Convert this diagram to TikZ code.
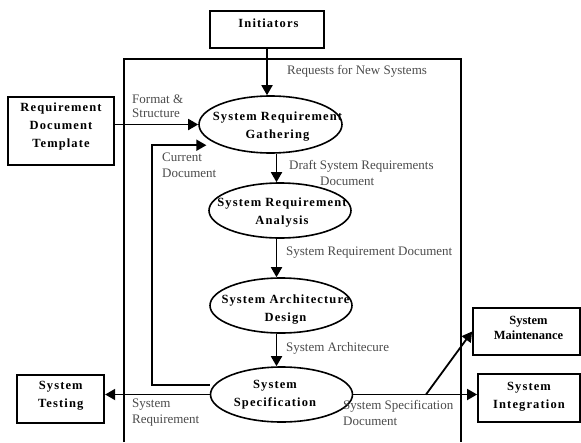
\documentclass[tikz,border=0pt]{standalone}
\usepackage{fontspec}
\setmainfont{Liberation Serif}
\newfontfamily\wideserif[LetterSpace=9]{Liberation Serif}
\usetikzlibrary{shapes.geometric,arrows.meta}

\begin{document}
\begin{tikzpicture}[x=1pt, y=-1pt,
  box/.style={draw, line width=1.8pt, inner sep=0pt},
  proc/.style={draw, ellipse, line width=1.6pt, inner sep=0pt,
    minimum width=142pt, minimum height=55pt},
  boldtxt/.style={font=\wideserif\bfseries\fontsize{12.5}{18}\selectfont,
    align=center, inner sep=0pt},
  boldtight/.style={boldtxt, font=\bfseries\fontsize{12.5}{15}\selectfont},
  flowtxt/.style={font=\fontsize{13}{16}\selectfont, text=flowgray,
    align=left, anchor=west, inner sep=0pt},
  arr/.style={line width=1.8pt, -{Triangle[length=10pt, width=11pt]}}]
  % Define label colour
  \definecolor{flowgray}{RGB}{75,75,75}
  \useasboundingbox (0,0) rectangle (581,442);

  % Open frame of the process
  \draw[line width=1.8pt] (124,442) -- (124,59) -- (461,59) -- (461,442);

  % Outside parties (boxes)
  \node[box, minimum width=114pt, minimum height=37pt,
    label={[boldtxt, xshift=1.5pt, yshift=6.5pt]center:Initiators}] (init) at (267,29.5) {};
  \node[box, minimum width=106pt, minimum height=68pt,
    label={[boldtxt, yshift=5pt]center:Requirement\\Document\\Template}] (tmpl) at (61,131) {};
  \node[box, minimum width=87pt, minimum height=48pt,
    label={[boldtxt, yshift=3.5pt]center:System\\Testing}] (test) at (60.75,399) {};
  \node[box, minimum width=107pt, minimum height=47pt,
    label={[boldtight, xshift=2pt, yshift=4pt]center:System\\Maintenance}] (maint) at (526.5,331.5) {};
  \node[box, minimum width=102pt, minimum height=48pt,
    label={[boldtxt, yshift=1.5pt]center:System\\Integration}] (integ) at (529,398) {};

  % Process steps (ellipses)
  \node[proc, minimum width=143pt, minimum height=57pt,
    label={[boldtxt, xshift=7pt, yshift=-2.5pt]center:System Requirement\\Gathering}] (gather) at (270.5,124.5) {};
  \node[proc, label={[boldtxt, xshift=2pt, yshift=-2.5pt]center:System Requirement\\Analysis}] (analysis) at (280,210.5) {};
  \node[proc, label={[boldtxt, xshift=4.5pt, yshift=-4pt]center:System Architecture\\Design}] (arch) at (281,305.5) {};
  \node[proc, label={[boldtxt, xshift=-6.5pt, yshift=-0.5pt]center:System\\Specification}] (spec) at (281.5,394.5) {};

  \coordinate (col) at (276.5,0);
  \coordinate (split) at (426,394.5);

  % Flows
  \draw[arr] (init.south) -- (init.south |- gather.north);
  \draw[arr] (tmpl.east |- gather.west) -- (gather.west);
  \draw[arr, shorten >=13pt] ([yshift=9.5pt]spec.west) -- ++(-58,0) |- (gather.south west);
  \foreach \a/\b in {gather/analysis, analysis/arch, arch/spec} {
    \draw[arr] (\a.south -| col) -- (\b.north -| col);
  }
  \draw[arr] (spec.west) -- (spec.west -| test.east);
  \draw[arr] (spec.east) -- (spec.east -| integ.west);
  \draw[arr] (split) -- (maint.west);

  % Flow labels
  \node[flowtxt] (req) at (287,71) {Requests for New Systems};
  \node[flowtxt] (fmt) at (132,106) {Format \&\\[-2pt]Structure};
  \node[flowtxt] (cur) at (162,165) {Current\\Document};
  \node[flowtxt] (draft) at (289,173) {Draft System Requirements\\\hspace*{31pt}Document};
  \node[flowtxt] (srd) at (286,253) {System Requirement Document};
  \node[flowtxt] (sa) at (286,348.5) {System Architecure};
  \node[flowtxt] (sreq) at (132,412.5) {System\\Requirement};
  \node[flowtxt] (ssd) at (343,412.5) {System Specification\\Document};
\end{tikzpicture}
\end{document}
